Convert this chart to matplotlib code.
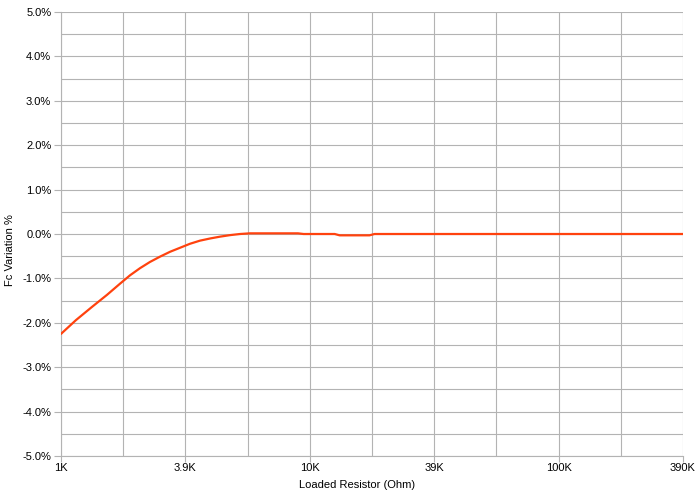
import matplotlib
matplotlib.use("Agg")
import matplotlib.pyplot as plt
from matplotlib.ticker import FuncFormatter, MultipleLocator

# Category positions (one unit = one labelled tick interval) and Fc variation (%)
tick_labels = ["1K", "3.9K", "10K", "39K", "100K", "390K"]
x_pos = [0.0, 0.12, 0.25, 0.37, 0.474, 0.555, 0.635, 0.715, 0.796, 0.877, 0.957, 1.037,
         1.117, 1.2, 1.278, 1.36, 1.439, 1.519, 1.7, 1.905, 1.95,
         2.2, 2.24, 2.48, 2.52, 3.0, 3.5, 4.0, 4.5, 5.0]
fc_var = [-2.25, -1.94, -1.64, -1.37, -1.12, -0.93, -0.77, -0.63, -0.51, -0.40, -0.31, -0.22,
          -0.15, -0.10, -0.06, -0.025, 0.0, 0.015, 0.015, 0.015, 0.0,
          0.0, -0.03, -0.03, 0.0, 0.0, 0.0, 0.0, 0.0, 0.0]

plt.rcParams['font.family'] = ['Liberation Sans', 'DejaVu Sans']
fig = plt.figure(figsize=(7.0, 4.95), dpi=100)
ax = fig.add_axes([61/700, 39/495, 622/700, 444/495])

grid_c = '#b3b3b3'
ax.plot(x_pos, fc_var, color='#ff420e', lw=1.6, solid_joinstyle='round',
        solid_capstyle='round', zorder=3)

ax.set_xlim(0, 5)
ax.set_ylim(-5, 5)
ax.set_xticks(range(len(tick_labels)))
ax.set_xticklabels(tick_labels)
ax.xaxis.set_minor_locator(MultipleLocator(0.5))
ax.yaxis.set_major_locator(MultipleLocator(1))
ax.yaxis.set_minor_locator(MultipleLocator(0.5))
ax.yaxis.set_major_formatter(FuncFormatter(lambda v, p: f"{v:.1f}%"))

ax.grid(which='both', color=grid_c, lw=0.8)
ax.set_axisbelow(True)
for s in ['top', 'right']:
    ax.spines[s].set_visible(False)
for s in ['left', 'bottom']:
    ax.spines[s].set_color(grid_c)
    ax.spines[s].set_linewidth(0.8)

ax.tick_params(which='major', length=5, width=0.8, color=grid_c, labelsize=8, pad=2,
               labelcolor='black')
ax.tick_params(which='minor', length=0)
ax.tick_params(axis='x', length=4, pad=1)

fig.text(357/700, 1 - 485/495, "Loaded Resistor (Ohm)", fontsize=8, ha='center', va='center')
fig.text(10/700, 1 - 250/495, "Fc Variation %", fontsize=8, ha='center', va='center',
         rotation=90)

fig.savefig("out.png", dpi=100)
